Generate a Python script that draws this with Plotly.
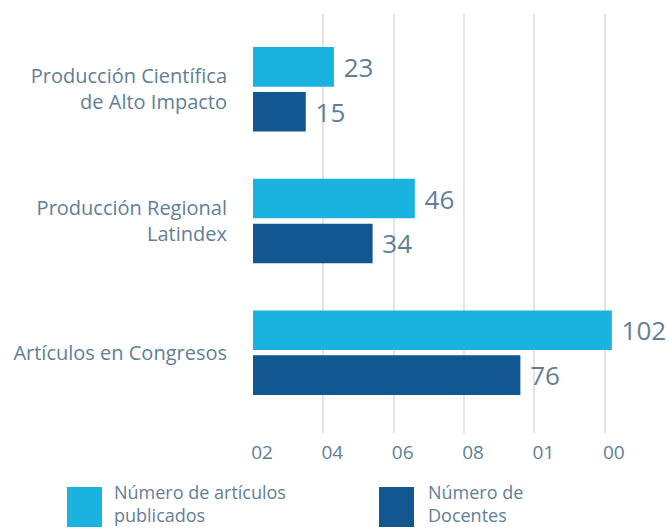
import plotly.graph_objects as go

categories = ["Producción Científica<br>de Alto Impacto", "Producción Regional<br>Latindex", "Artículos en Congresos"]
series_names = ["Número de artículos<br>publicados", "Número de<br>Docentes"]
articulos = [23, 46, 102]
docentes = [15, 34, 76]
tick_vals = [0, 20, 40, 60, 80, 100]
tick_labels = ["02", "04", "06", "08", "01", "00"]

colors = ["#1ab3df", "#12578f"]
text_color = "#5f8096"
font_family = "Open Sans, Lato, sans-serif"

W, H = 668, 530
ML, MR, MT, MB = 253, 28, 14, 97

fig = go.Figure()
for name, vals, col in zip(series_names, [articulos, docentes], colors):
    fig.add_trace(go.Bar(
        y=categories, x=vals, orientation="h", name=name,
        marker=dict(color=col, line=dict(width=0)),
        text=vals, texttemplate="\u00a0%{x}", textposition="outside",
        textfont=dict(size=26, color=text_color, family=font_family),
        cliponaxis=False, constraintext="none", showlegend=False,
    ))

fig.update_layout(
    width=W, height=H,
    margin=dict(l=ML, r=MR, t=MT, b=MB, autoexpand=False),
    paper_bgcolor="white", plot_bgcolor="white",
    barmode="group", bargap=0.318, bargroupgap=0.118,
    font=dict(family=font_family, color=text_color, size=20),
    xaxis=dict(range=[0, 110], tickvals=tick_vals, ticktext=tick_labels,
               showgrid=True, gridcolor="#e3e3e3", gridwidth=2,
               zeroline=False, showline=False, ticks="", ticklabelshift=9,
               ticklabelstandoff=6, automargin=False,
               tickfont=dict(size=19, color=text_color)),
    yaxis=dict(autorange=False, range=[2.61, -0.572], showgrid=False, zeroline=False,
               ticks="", ticklabelstandoff=25, automargin=False,
               tickfont=dict(size=20, color=text_color)),
)

# custom legend (large swatches)
pw = W - ML - MR
ph = H - MT - MB
leg_items = [(67, 112), (379, 426)]
for (sx, tx), name, col in zip(leg_items, series_names, colors):
    fig.add_shape(type="rect", xref="paper", yref="paper",
                  x0=(sx - ML) / pw, x1=(sx + 35 - ML) / pw,
                  y0=(H - MB - 527) / ph, y1=(H - MB - 487) / ph,
                  line=dict(width=0), fillcolor=col)
    fig.add_annotation(xref="paper", yref="paper", x=(tx - ML) / pw, y=(H - MB - 478) / ph,
                       text=name, showarrow=False, xanchor="left", yanchor="top", align="left",
                       font=dict(size=18, color=text_color, family=font_family))

fig.write_html("out.html", config={"displayModeBar": False},
               post_script="document.body.style.margin='0';")
